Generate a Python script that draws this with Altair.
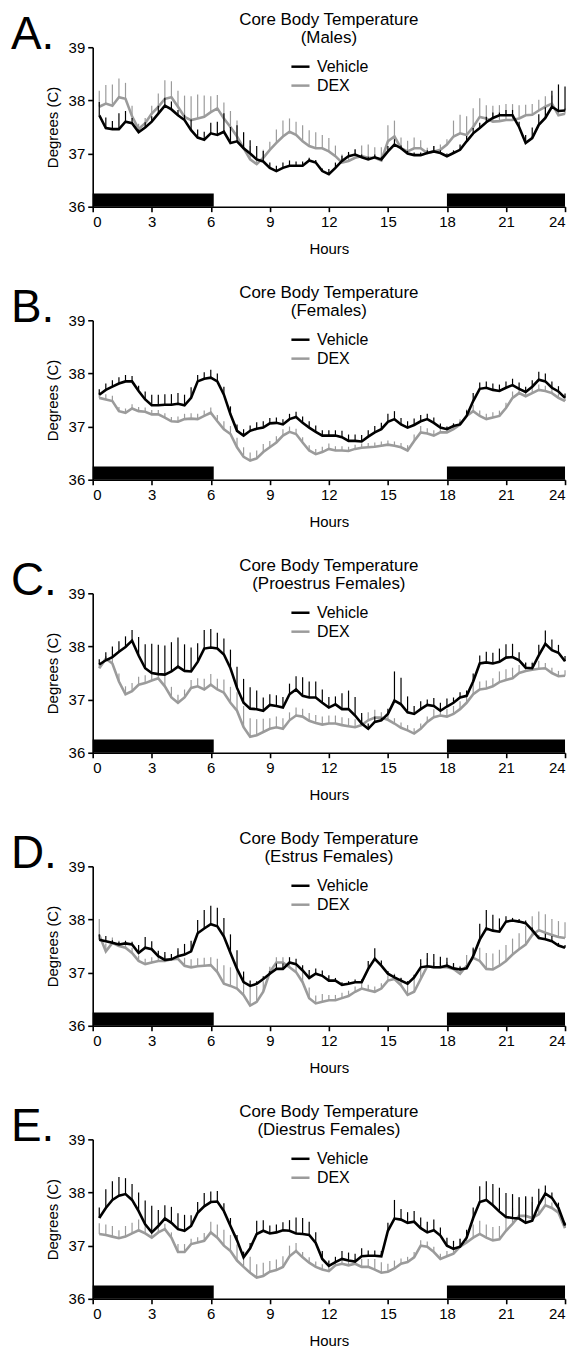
import altair as alt
import pandas as pd

FONT = "Liberation Sans"

# time of each sample (hours), one every 20 min
HOURS = [round((i + 1) / 3, 4) for i in range(72)]

LETTERS = ["A.", "B.", "C.", "D.", "E."]
SUBTITLES = ["(Males)", "(Females)", "(Proestrus Females)", "(Estrus Females)", "(Diestrus Females)"]

# dark phase bars (hours)
DARK_START = [0, 18]
DARK_END = [6.15, 24]

# ---------------- Panel A: Males ----------------
A_VEH = [37.72, 37.48, 37.46, 37.46, 37.60, 37.57,
         37.40, 37.49, 37.60, 37.75, 37.90, 37.83,
         37.72, 37.63, 37.44, 37.30, 37.26, 37.38,
         37.35, 37.41, 37.20, 37.23, 37.10, 37.00,
         36.89, 36.85, 36.73, 36.67, 36.73, 36.77,
         36.77, 36.77, 36.87, 36.83, 36.67, 36.61,
         36.73, 36.86, 36.95, 36.98, 36.93, 36.89,
         36.93, 36.89, 37.04, 37.17, 37.10, 37.00,
         36.97, 36.97, 37.01, 37.04, 37.01, 36.95,
         37.01, 37.07, 37.23, 37.38, 37.48, 37.59,
         37.67, 37.72, 37.72, 37.72, 37.50, 37.20,
         37.29, 37.54, 37.67, 37.88, 37.80, 37.81]
A_VEH_SEM = [0.25, 0.2, 0.15, 0.3, 0.2, 0.1,
             0.05, 0.1, 0.1, 0.15, 0.15, 0.15,
             0.1, 0.1, 0.2, 0.15, 0.15, 0.2,
             0.25, 0.35, 0.3, 0.3, 0.3, 0.25,
             0.25, 0.2, 0.1, 0.1, 0.1, 0.1,
             0.08, 0.08, 0.05, 0.05, 0.05, 0.1,
             0.1, 0.1, 0.08, 0.1, 0.05, 0.05,
             0.05, 0.05, 0.1, 0.1, 0.05, 0.05,
             0.05, 0.05, 0.05, 0.1, 0.05, 0.05,
             0.05, 0.1, 0.1, 0.1, 0.1, 0.1,
             0.1, 0.05, 0.1, 0.1, 0.1, 0.15,
             0.2, 0.2, 0.2, 0.3, 0.5, 0.45]
A_DEX = [37.88, 37.94, 37.90, 38.06, 38.03, 37.70,
         37.46, 37.57, 37.75, 37.88, 38.03, 38.06,
         37.88, 37.69, 37.63, 37.66, 37.69, 37.78,
         37.85, 37.66, 37.50, 37.32, 37.10, 36.89,
         36.80, 36.92, 37.07, 37.20, 37.32, 37.41,
         37.35, 37.23, 37.14, 37.10, 37.10, 37.04,
         36.95, 36.83, 36.86, 36.92, 36.95, 36.92,
         36.92, 36.87, 37.23, 37.32, 37.10, 37.04,
         37.10, 37.10, 37.01, 37.04, 37.07, 37.17,
         37.32, 37.38, 37.35, 37.50, 37.69, 37.66,
         37.60, 37.61, 37.63, 37.63, 37.66, 37.72,
         37.73, 37.81, 37.88, 37.94, 37.72, 37.75]
A_DEX_SEM = [0.3, 0.35, 0.4, 0.35, 0.3, 0.2,
             0.1, 0.1, 0.15, 0.25, 0.35, 0.3,
             0.3, 0.4, 0.45, 0.45, 0.4, 0.3,
             0.25, 0.3, 0.3, 0.3, 0.3, 0.25,
             0.1, 0.15, 0.15, 0.25, 0.3, 0.25,
             0.25, 0.3, 0.3, 0.3, 0.25, 0.25,
             0.2, 0.15, 0.15, 0.15, 0.2, 0.25,
             0.2, 0.25, 0.3, 0.3, 0.2, 0.2,
             0.2, 0.15, 0.1, 0.1, 0.1, 0.1,
             0.3, 0.35, 0.35, 0.35, 0.35, 0.25,
             0.3, 0.3, 0.3, 0.3, 0.25, 0.2,
             0.2, 0.2, 0.2, 0.15, 0.15, 0.1]

# ---------------- Panel B: Females ----------------
B_VEH = [37.60, 37.69, 37.75, 37.81, 37.85, 37.85,
         37.67, 37.51, 37.40, 37.40, 37.41, 37.41,
         37.43, 37.40, 37.54, 37.85, 37.90, 37.92,
         37.85, 37.60, 37.23, 36.92, 36.83, 36.92,
         36.96, 36.98, 37.06, 37.07, 37.04, 37.14,
         37.18, 37.07, 36.98, 36.90, 36.83, 36.83,
         36.83, 36.80, 36.73, 36.73, 36.72, 36.81,
         36.89, 36.95, 37.09, 37.14, 37.04, 36.98,
         37.03, 37.10, 37.14, 37.07, 36.98, 36.95,
         37.01, 37.04, 37.20, 37.48, 37.71, 37.73,
         37.69, 37.67, 37.73, 37.78, 37.71, 37.65,
         37.75, 37.88, 37.85, 37.73, 37.66, 37.54]
B_VEH_SEM = [0.1, 0.12, 0.12, 0.12, 0.12, 0.1,
             0.1, 0.15, 0.2, 0.2, 0.2, 0.2,
             0.2, 0.2, 0.2, 0.12, 0.12, 0.15,
             0.15, 0.15, 0.15, 0.12, 0.12, 0.1,
             0.12, 0.12, 0.1, 0.1, 0.1, 0.1,
             0.1, 0.12, 0.12, 0.12, 0.1, 0.1,
             0.1, 0.12, 0.12, 0.12, 0.12, 0.12,
             0.12, 0.12, 0.15, 0.15, 0.12, 0.12,
             0.12, 0.12, 0.1, 0.1, 0.08, 0.05,
             0.05, 0.05, 0.1, 0.15, 0.12, 0.12,
             0.12, 0.12, 0.12, 0.12, 0.12, 0.1,
             0.12, 0.15, 0.15, 0.12, 0.1, 0.08]
B_DEX = [37.54, 37.51, 37.48, 37.29, 37.26, 37.34,
         37.29, 37.28, 37.23, 37.23, 37.17, 37.10,
         37.09, 37.14, 37.15, 37.14, 37.20, 37.26,
         37.10, 36.95, 36.86, 36.61, 36.43, 36.36,
         36.40, 36.52, 36.61, 36.70, 36.83, 36.90,
         36.86, 36.70, 36.55, 36.48, 36.52, 36.58,
         36.55, 36.55, 36.54, 36.58, 36.60, 36.61,
         36.62, 36.64, 36.66, 36.64, 36.61, 36.55,
         36.73, 36.89, 36.87, 36.83, 36.89, 36.89,
         36.95, 37.04, 37.20, 37.29, 37.20, 37.14,
         37.17, 37.20, 37.35, 37.54, 37.63, 37.57,
         37.63, 37.69, 37.67, 37.63, 37.54, 37.48]
B_DEX_SEM = [0.1, 0.1, 0.1, 0.08, 0.08, 0.08,
             0.08, 0.08, 0.08, 0.08, 0.08, 0.08,
             0.1, 0.1, 0.1, 0.1, 0.1, 0.1,
             0.12, 0.15, 0.15, 0.18, 0.18, 0.15,
             0.15, 0.15, 0.12, 0.12, 0.12, 0.1,
             0.1, 0.1, 0.1, 0.1, 0.1, 0.1,
             0.08, 0.08, 0.08, 0.08, 0.08, 0.08,
             0.08, 0.08, 0.08, 0.08, 0.08, 0.1,
             0.12, 0.12, 0.1, 0.1, 0.1, 0.1,
             0.1, 0.1, 0.12, 0.12, 0.1, 0.1,
             0.1, 0.1, 0.1, 0.12, 0.12, 0.1,
             0.1, 0.1, 0.1, 0.08, 0.08, 0.06]

# ---------------- Panel C: Proestrus females ----------------
C_VEH = [37.66, 37.74, 37.80, 37.90, 37.99, 38.11,
         37.83, 37.59, 37.50, 37.48, 37.47, 37.53,
         37.62, 37.54, 37.53, 37.71, 37.96, 37.98,
         37.96, 37.85, 37.59, 37.22, 36.94, 36.83,
         36.82, 36.79, 36.90, 36.88, 36.85, 37.10,
         37.19, 37.07, 37.04, 37.04, 36.94, 36.85,
         36.91, 36.82, 36.82, 36.70, 36.55, 36.45,
         36.58, 36.61, 36.73, 36.98, 36.91, 36.76,
         36.73, 36.82, 36.90, 36.88, 36.79, 36.87,
         36.94, 37.04, 37.07, 37.34, 37.68, 37.70,
         37.68, 37.71, 37.79, 37.80, 37.74, 37.60,
         37.59, 37.83, 38.05, 37.93, 37.88, 37.72]
C_VEH_SEM = [0.1, 0.15, 0.2, 0.2, 0.2, 0.2,
             0.35, 0.45, 0.55, 0.55, 0.55, 0.55,
             0.55, 0.5, 0.45, 0.35, 0.35, 0.35,
             0.3, 0.3, 0.35, 0.4, 0.45, 0.4,
             0.35, 0.25, 0.2, 0.2, 0.2, 0.2,
             0.25, 0.35, 0.3, 0.3, 0.25, 0.2,
             0.15, 0.3, 0.35, 0.35, 0.2, 0.1,
             0.1, 0.05, 0.1, 0.55, 0.5, 0.3,
             0.15, 0.15, 0.1, 0.15, 0.15, 0.15,
             0.1, 0.1, 0.1, 0.15, 0.15, 0.2,
             0.2, 0.25, 0.25, 0.25, 0.15, 0.1,
             0.1, 0.2, 0.25, 0.2, 0.15, 0.1]
C_DEX = [37.59, 37.77, 37.68, 37.34, 37.10, 37.16,
         37.28, 37.31, 37.36, 37.40, 37.25, 37.04,
         36.94, 37.04, 37.22, 37.25, 37.19, 37.28,
         37.19, 37.13, 36.94, 36.79, 36.48, 36.30,
         36.33, 36.39, 36.45, 36.48, 36.45, 36.61,
         36.70, 36.68, 36.60, 36.56, 36.53, 36.55,
         36.55, 36.52, 36.50, 36.48, 36.52, 36.61,
         36.66, 36.66, 36.62, 36.55, 36.47, 36.42,
         36.36, 36.45, 36.58, 36.67, 36.70, 36.68,
         36.73, 36.82, 36.94, 37.10, 37.19, 37.21,
         37.25, 37.33, 37.37, 37.40, 37.50, 37.54,
         37.56, 37.58, 37.59, 37.50, 37.44, 37.45]
C_DEX_SEM = [0.1, 0.05, 0.1, 0.15, 0.15, 0.15,
             0.15, 0.15, 0.15, 0.15, 0.2, 0.2,
             0.15, 0.15, 0.15, 0.15, 0.2, 0.2,
             0.2, 0.25, 0.3, 0.35, 0.4, 0.35,
             0.3, 0.25, 0.2, 0.2, 0.2, 0.15,
             0.15, 0.15, 0.15, 0.15, 0.15, 0.15,
             0.15, 0.15, 0.15, 0.15, 0.15, 0.15,
             0.15, 0.1, 0.1, 0.1, 0.1, 0.1,
             0.1, 0.1, 0.1, 0.15, 0.15, 0.15,
             0.15, 0.15, 0.2, 0.2, 0.15, 0.15,
             0.15, 0.2, 0.2, 0.2, 0.15, 0.15,
             0.15, 0.15, 0.1, 0.1, 0.1, 0.1]

# ---------------- Panel D: Estrus females ----------------
D_VEH = [37.62, 37.59, 37.56, 37.53, 37.55, 37.53,
         37.37, 37.47, 37.44, 37.31, 37.24, 37.25,
         37.31, 37.34, 37.40, 37.74, 37.83, 37.91,
         37.87, 37.68, 37.37, 37.07, 36.82, 36.75,
         36.79, 36.88, 36.98, 37.07, 37.07, 37.19,
         37.16, 37.04, 36.90, 36.98, 36.94, 36.85,
         36.85, 36.77, 36.79, 36.82, 36.82, 37.07,
         37.26, 37.13, 36.98, 36.91, 36.85, 36.79,
         36.91, 37.10, 37.12, 37.10, 37.10, 37.13,
         37.08, 37.06, 37.08, 37.31, 37.62, 37.83,
         37.79, 37.77, 37.96, 37.98, 37.96, 37.93,
         37.80, 37.65, 37.63, 37.59, 37.51, 37.47]
D_VEH_SEM = [0.1, 0.1, 0.05, 0.05, 0.05, 0.05,
             0.15, 0.2, 0.15, 0.1, 0.15, 0.1,
             0.15, 0.2, 0.2, 0.25, 0.35, 0.35,
             0.35, 0.35, 0.35, 0.35, 0.2, 0.1,
             0.05, 0.05, 0.05, 0.1, 0.1, 0.1,
             0.1, 0.1, 0.15, 0.1, 0.1, 0.1,
             0.05, 0.05, 0.05, 0.05, 0.05, 0.15,
             0.2, 0.1, 0.05, 0.05, 0.05, 0.05,
             0.05, 0.15, 0.25, 0.25, 0.2, 0.15,
             0.1, 0.05, 0.05, 0.15, 0.3, 0.35,
             0.3, 0.25, 0.1, 0.05, 0.05, 0.05,
             0.05, 0.05, 0.1, 0.1, 0.05, 0.05]
D_DEX = [37.71, 37.40, 37.56, 37.50, 37.47, 37.37,
         37.22, 37.16, 37.19, 37.22, 37.22, 37.25,
         37.26, 37.13, 37.10, 37.12, 37.13, 37.14,
         37.01, 36.79, 36.75, 36.70, 36.58, 36.38,
         36.45, 36.64, 37.01, 37.19, 37.19, 37.10,
         37.01, 36.82, 36.52, 36.42, 36.45, 36.48,
         36.48, 36.52, 36.56, 36.64, 36.70, 36.67,
         36.64, 36.70, 36.85, 36.88, 36.76, 36.58,
         36.64, 36.88, 37.12, 37.10, 37.10, 37.10,
         37.07, 36.98, 37.13, 37.28, 37.22, 37.07,
         37.06, 37.13, 37.22, 37.34, 37.44, 37.53,
         37.71, 37.80, 37.75, 37.71, 37.67, 37.65]
D_DEX_SEM = [0.3, 0.15, 0.1, 0.1, 0.1, 0.1,
             0.1, 0.1, 0.1, 0.1, 0.1, 0.1,
             0.15, 0.15, 0.15, 0.15, 0.15, 0.15,
             0.25, 0.35, 0.35, 0.35, 0.35, 0.35,
             0.3, 0.2, 0.1, 0.1, 0.1, 0.1,
             0.15, 0.2, 0.2, 0.15, 0.15, 0.1,
             0.1, 0.1, 0.1, 0.1, 0.1, 0.1,
             0.1, 0.1, 0.1, 0.1, 0.15, 0.25,
             0.3, 0.3, 0.15, 0.1, 0.1, 0.1,
             0.1, 0.15, 0.2, 0.2, 0.25, 0.3,
             0.3, 0.3, 0.3, 0.3, 0.3, 0.35,
             0.35, 0.35, 0.35, 0.3, 0.3, 0.3]

# ---------------- Panel E: Diestrus females ----------------
E_VEH = [37.52, 37.71, 37.86, 37.94, 37.97, 37.86,
         37.65, 37.40, 37.25, 37.37, 37.51, 37.43,
         37.31, 37.28, 37.37, 37.62, 37.74, 37.82,
         37.83, 37.65, 37.37, 37.10, 36.78, 36.95,
         37.22, 37.28, 37.23, 37.25, 37.29, 37.28,
         37.23, 37.22, 37.20, 37.05, 36.75, 36.62,
         36.69, 36.75, 36.72, 36.70, 36.80, 36.81,
         36.81, 36.80, 37.28, 37.51, 37.49, 37.43,
         37.45, 37.33, 37.25, 37.29, 37.19, 37.00,
         36.94, 36.98, 37.15, 37.52, 37.82, 37.86,
         37.76, 37.64, 37.54, 37.52, 37.51, 37.43,
         37.47, 37.77, 37.98, 37.90, 37.71, 37.38]
E_VEH_SEM = [0.2, 0.35, 0.35, 0.35, 0.3, 0.3,
             0.35, 0.45, 0.5, 0.3, 0.25, 0.3,
             0.3, 0.3, 0.2, 0.2, 0.25, 0.2,
             0.2, 0.15, 0.15, 0.1, 0.1, 0.1,
             0.25, 0.2, 0.15, 0.15, 0.15, 0.2,
             0.3, 0.3, 0.25, 0.2, 0.15, 0.1,
             0.1, 0.15, 0.15, 0.15, 0.15, 0.1,
             0.1, 0.1, 0.15, 0.35, 0.2, 0.2,
             0.2, 0.2, 0.2, 0.2, 0.15, 0.15,
             0.15, 0.15, 0.15, 0.2, 0.3, 0.35,
             0.4, 0.45, 0.45, 0.45, 0.4, 0.5,
             0.45, 0.3, 0.15, 0.1, 0.1, 0.05]
E_DEX = [37.22, 37.20, 37.17, 37.14, 37.17, 37.23,
         37.29, 37.23, 37.15, 37.25, 37.31, 37.15,
         36.88, 36.88, 37.03, 37.06, 37.09, 37.25,
         37.15, 37.00, 36.90, 36.72, 36.60, 36.49,
         36.40, 36.43, 36.51, 36.54, 36.60, 36.80,
         36.90, 36.78, 36.68, 36.60, 36.55, 36.52,
         36.63, 36.66, 36.63, 36.66, 36.60, 36.60,
         36.55, 36.49, 36.51, 36.57, 36.66, 36.69,
         36.78, 37.00, 36.98, 36.88, 36.75, 36.80,
         36.85, 36.98, 37.06, 37.15, 37.22, 37.15,
         37.10, 37.12, 37.28, 37.41, 37.56, 37.56,
         37.52, 37.59, 37.76, 37.71, 37.62, 37.33]
E_DEX_SEM = [0.2, 0.2, 0.2, 0.15, 0.2, 0.2,
             0.2, 0.15, 0.1, 0.1, 0.1, 0.1,
             0.15, 0.15, 0.1, 0.1, 0.15, 0.2,
             0.25, 0.3, 0.3, 0.3, 0.3, 0.3,
             0.25, 0.25, 0.2, 0.2, 0.2, 0.2,
             0.15, 0.1, 0.1, 0.1, 0.1, 0.1,
             0.1, 0.1, 0.1, 0.1, 0.15, 0.15,
             0.2, 0.2, 0.15, 0.15, 0.1, 0.1,
             0.1, 0.1, 0.1, 0.1, 0.1, 0.1,
             0.1, 0.15, 0.2, 0.25, 0.25, 0.25,
             0.25, 0.25, 0.3, 0.3, 0.35, 0.35,
             0.3, 0.25, 0.15, 0.1, 0.1, 0.1]

SERIES = [
    (A_VEH, A_VEH_SEM, A_DEX, A_DEX_SEM),
    (B_VEH, B_VEH_SEM, B_DEX, B_DEX_SEM),
    (C_VEH, C_VEH_SEM, C_DEX, C_DEX_SEM),
    (D_VEH, D_VEH_SEM, D_DEX, D_DEX_SEM),
    (E_VEH, E_VEH_SEM, E_DEX, E_DEX_SEM),
]

GROUPS = ["Vehicle", "DEX"]
COLORS = ["#000000", "#9b9b9b"]


def series_frame(group, means, sems):
    return pd.DataFrame({
        "hour": HOURS,
        "temp": means,
        "upper": [round(m + s, 3) for m, s in zip(means, sems)],
        "group": [group] * len(HOURS),
    })


X_AXIS = alt.Axis(values=list(range(0, 25, 3)), title="Hours", grid=False)
Y_AXIS = alt.Axis(values=[36, 37, 38, 39], title="Degrees (C)", grid=False)
X_SCALE = alt.Scale(domain=[0, 24], nice=False)
Y_SCALE = alt.Scale(domain=[36, 39], nice=False, zero=False)


def panel(letter, subtitle, veh, veh_sem, dex, dex_sem):
    veh_df = series_frame("Vehicle", veh, veh_sem)
    dex_df = series_frame("DEX", dex, dex_sem)
    dark_df = pd.DataFrame({"start": DARK_START, "end": DARK_END})
    letter_df = pd.DataFrame({"label": [letter]})

    color = alt.Color(
        "group:N",
        scale=alt.Scale(domain=GROUPS, range=COLORS),
        legend=alt.Legend(
            title=None, orient="none", legendX=198, legendY=9,
            symbolType="stroke", symbolSize=330, symbolStrokeWidth=2.5,
            labelFont=FONT, labelFontSize=16, labelColor="black",
            labelOffset=6, rowPadding=0, padding=0,
        ),
    )
    x = alt.X("hour:Q", scale=X_SCALE, axis=X_AXIS)
    y = alt.Y("temp:Q", scale=Y_SCALE, axis=Y_AXIS)

    dark = alt.Chart(dark_df).mark_rect(color="black").encode(
        x=alt.X("start:Q", scale=X_SCALE, axis=X_AXIS),
        x2="end:Q",
        y=alt.Y(datum=36.25, scale=Y_SCALE, axis=Y_AXIS),
        y2=alt.Y2(datum=36.0),
    )

    def err(df):
        return alt.Chart(df).mark_rule(strokeWidth=1.2).encode(
            x=x, y=y, y2="upper:Q", color=color)

    def line(df):
        return alt.Chart(df).mark_line(strokeWidth=2.6).encode(
            x=x, y=y, color=color)

    label = alt.Chart(letter_df).mark_text(
        font=FONT, fontSize=46, align="left", baseline="alphabetic", color="black"
    ).encode(x=alt.value(-82), y=alt.value(2), text="label:N")

    return alt.layer(
        dark, err(dex_df), line(dex_df), err(veh_df), line(veh_df), label
    ).properties(
        width=474,
        height=160,
        title=alt.TitleParams(
            text="Core Body Temperature", subtitle=subtitle,
            font=FONT, subtitleFont=FONT, fontSize=17, subtitleFontSize=17,
            fontWeight="normal", color="black", subtitleColor="black",
            anchor="middle", frame="group", offset=-35, subtitlePadding=1,
        ),
    )


panels = [panel(l, s, *d) for l, s, d in zip(LETTERS, SUBTITLES, SERIES)]

chart = alt.vconcat(
    *panels, spacing=26,
    padding={"left": 2, "top": 0, "right": 0, "bottom": 0},
).resolve_scale(
    color="independent"
).configure_axis(
    grid=False, domainColor="black", domainWidth=1.6, tickColor="black",
    tickWidth=1.6, tickSize=5, labelFont=FONT, labelFontSize=15,
    labelColor="black", titleFont=FONT, titleFontSize=15,
    titleFontWeight="normal", titleColor="black", labelPadding=3,
).configure_axisX(titlePadding=12).configure_axisY(titlePadding=8).configure_view(
    stroke="transparent"
)

chart.save("out.html", embed_options={"renderer": "svg", "actions": False})
